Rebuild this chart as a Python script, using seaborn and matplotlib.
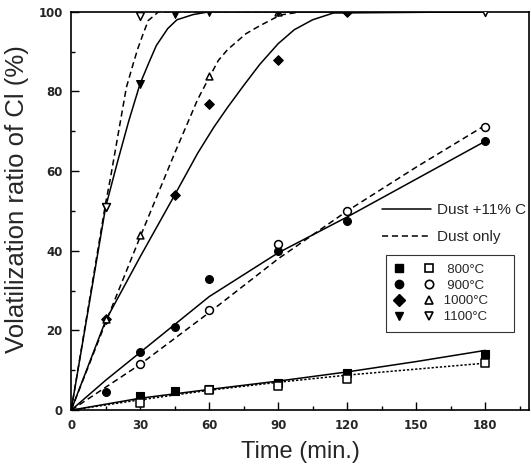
import seaborn as sns
import matplotlib
matplotlib.use("Agg")
import matplotlib.pyplot as plt
from matplotlib.lines import Line2D
from matplotlib.legend_handler import HandlerTuple
from matplotlib.ticker import MultipleLocator

# measured points, filled = dust +11% C, open = dust only
t800_fill = [30, 45, 60, 90, 120, 180]
y800_fill = [3.6, 4.7, 5.3, 6.8, 9.3, 14.0]
t800_open = [30, 60, 90, 120, 180]
y800_open = [1.7, 5.0, 6.0, 7.8, 11.8]

t900_fill = [15, 30, 45, 60, 90, 120, 180]
y900_fill = [4.5, 14.5, 21.0, 33.0, 40.0, 47.5, 67.5]
t900_open = [30, 60, 90, 120, 180]
y900_open = [11.5, 25.2, 41.8, 50.0, 71.2]

t1000_fill = [15, 45, 60, 90, 120]
y1000_fill = [23.0, 54.0, 76.8, 87.8, 100.0]
t1000_open = [15, 30, 60, 90]
y1000_open = [23.0, 44.0, 84.0, 100.0]

t1100_fill = [15, 30, 45, 60, 90]
y1100_fill = [51.0, 82.0, 99.5, 100.0, 100.0]
t1100_open = [15, 30, 180]
y1100_open = [51.0, 99.0, 100.0]

# fitted curves
c800_solid_t = [0, 30, 60, 90, 120, 150, 180]
c800_solid_y = [0, 3.0, 5.2, 7.3, 9.6, 12.2, 15.0]
c800_dash_t = [0, 30, 60, 90, 120, 150, 180]
c800_dash_y = [0, 2.6, 5.0, 7.0, 8.8, 10.3, 11.8]

c900_solid_t = [0, 15, 30, 45, 60, 90, 120, 150, 180]
c900_solid_y = [0, 7.5, 14.5, 21.5, 28.5, 39.5, 48.5, 58.0, 67.5]
c900_dash_t = [0, 30, 60, 90, 120, 150, 180]
c900_dash_y = [0, 11.5, 24.5, 38.0, 50.0, 61.0, 71.5]

c1000_solid_t = [0, 15, 30, 45, 55, 62, 68, 75, 82, 90, 97, 105, 114, 180]
c1000_solid_y = [0, 22.5, 38.5, 54.0, 64.5, 71.0, 76.0, 81.5, 86.8, 92.0, 95.5, 98.0, 99.7, 100]
c1000_dash_t = [0, 15, 30, 45, 55, 60, 64, 68, 76, 82, 91, 100, 180]
c1000_dash_y = [0, 22.0, 43.5, 64.5, 78.0, 83.5, 87.8, 90.5, 94.5, 96.5, 99.2, 100, 100]

c1100_solid_t = [0, 15, 20, 25, 30, 34, 37, 42, 46, 53, 60, 180]
c1100_solid_y = [0, 51.0, 62.0, 72.5, 82.0, 87.5, 91.5, 95.8, 98.0, 99.3, 100, 100]
c1100_dash_t = [0, 15, 17, 24, 27, 29, 31, 33.5, 38, 180]
c1100_dash_y = [0, 52.0, 58.0, 81.0, 87.0, 90.8, 94.0, 97.8, 100, 100]

temps = ["800°C", "900°C", "1000°C", "1100°C"]
markers = ["s", "o", "D", "v"]

sns.set_theme(style="ticks")
plt.rcParams["font.family"] = ["Liberation Sans", "DejaVu Sans"]

fig = plt.figure(figsize=(5.31, 4.72), dpi=100)
ax = fig.add_axes([0.134, 0.131, 0.862, 0.844])

dash = (0, (4, 2.5))
curves = [
    (c800_solid_t, c800_solid_y, "-"), (c800_dash_t, c800_dash_y, (0, (1.5, 1.2))),
    (c900_solid_t, c900_solid_y, "-"), (c900_dash_t, c900_dash_y, dash),
    (c1000_solid_t, c1000_solid_y, "-"), (c1000_dash_t, c1000_dash_y, dash),
    (c1100_solid_t, c1100_solid_y, "-"), (c1100_dash_t, c1100_dash_y, dash),
]
for tx, ty, ls in curves:
    sns.lineplot(x=tx, y=ty, color="black", linewidth=1.1, linestyle=ls,
                 sort=False, estimator=None, ax=ax)

points = [
    (t800_fill, y800_fill, t800_open, y800_open),
    (t900_fill, y900_fill, t900_open, y900_open),
    (t1000_fill, y1000_fill, t1000_open, y1000_open),
    (t1100_fill, y1100_fill, t1100_open, y1100_open),
]
for (tf, yf, to, yo), m in zip(points, markers):
    sz = 32 if m != "D" else 24
    sns.scatterplot(x=tf, y=yf, marker=m, color="black", edgecolor="black",
                    s=sz, linewidth=0.8, zorder=3, ax=ax)
    sns.scatterplot(x=to, y=yo, marker=m if m != "D" else "^", color="white",
                    edgecolor="black", s=sz, linewidth=1.1, zorder=3, ax=ax)

ax.set_xlim(0, 199)
ax.set_ylim(0, 100)
ax.xaxis.set_major_locator(MultipleLocator(30))
ax.xaxis.set_minor_locator(MultipleLocator(15))
ax.yaxis.set_major_locator(MultipleLocator(20))
ax.yaxis.set_minor_locator(MultipleLocator(10))
ax.tick_params(which="both", direction="in", color="black", width=1)
ax.tick_params(which="major", length=6, labelsize=8.5, pad=6)
ax.tick_params(which="minor", length=3)
for lab in ax.get_xticklabels() + ax.get_yticklabels():
    lab.set_fontweight("bold")
    lab.set_family("DejaVu Sans")
for sp in ax.spines.values():
    sp.set_color("black")
    sp.set_linewidth(1.2)

ax.set_xlabel("Time (min.)", fontsize=17, labelpad=7)
ax.set_ylabel("Volatilization ratio of Cl (%)", fontsize=18.5)
ax.yaxis.set_label_coords(-0.092, 0.53)

# line style legend
line_handles = [Line2D([], [], color="black", lw=1.1, linestyle="-"),
                Line2D([], [], color="black", lw=1.1, linestyle=dash)]
leg1 = ax.legend(line_handles, ["Dust +11% C", "Dust only"], loc="upper left",
                 bbox_to_anchor=(0.665, 0.535), frameon=False, fontsize=11,
                 handlelength=3.2, handletextpad=0.4, labelspacing=0.85,
                 borderaxespad=0)
ax.add_artist(leg1)

# temperature marker legend
pair_handles = []
for m in markers:
    filled = Line2D([], [], marker=m, color="black", linestyle="none", markersize=6)
    empty = Line2D([], [], marker=m if m != "D" else "^", markerfacecolor="white",
                   markeredgecolor="black", markeredgewidth=1.2,
                   linestyle="none", markersize=6)
    pair_handles.append((filled, empty))
leg2 = ax.legend(pair_handles, [f"{t:>7}     " for t in temps], loc="upper left",
                 bbox_to_anchor=(0.688, 0.39),
                 handler_map={tuple: HandlerTuple(ndivide=None, pad=1.7)},
                 fontsize=9.5, handlelength=2.9, handletextpad=0.5, labelspacing=0.28,
                 borderpad=0.65, frameon=True, fancybox=False, edgecolor="black",
                 borderaxespad=0)
leg2.get_frame().set_linewidth(0.8)

fig.savefig("out.png", dpi=100)
